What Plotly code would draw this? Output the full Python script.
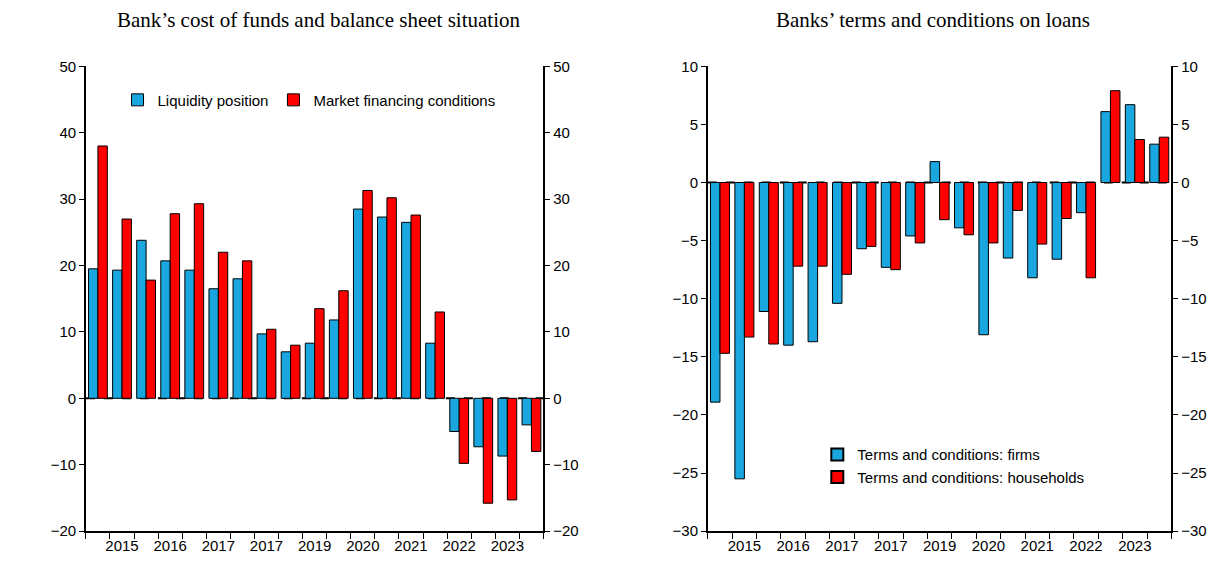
import plotly.graph_objects as go

labels = ["", "2015", "", "2016", "", "2017", "", "2017", "", "2019", "",
          "2020", "", "2021", "", "2022", "", "2023", ""]
liquidity = [19.5, 19.3, 23.8, 20.7, 19.3, 16.5, 18.0, 9.7, 7.0, 8.3, 11.8,
             28.5, 27.3, 26.5, 8.3, -5.0, -7.3, -8.7, -4.0]
market = [38.0, 27.0, 17.8, 27.8, 29.3, 22.0, 20.7, 10.4, 8.0, 13.5, 16.2,
          31.3, 30.2, 27.6, 13.0, -9.8, -15.8, -15.3, -8.0]
firms = [-18.9, -25.5, -11.1, -14.0, -13.7, -10.4, -5.7, -7.3, -4.6, 1.8, -3.9,
         -13.1, -6.5, -8.2, -6.6, -2.6, 6.1, 6.7, 3.3]
households = [-14.7, -13.3, -13.9, -7.2, -7.2, -7.9, -5.5, -7.5, -5.2, -3.2, -4.5,
              -5.2, -2.4, -5.3, -3.1, -8.2, 7.9, 3.7, 3.9]

x = list(range(1, len(labels) + 1))
tv = [i for i, l in zip(x, labels) if l]
tt = [l for l in labels if l]
blue, red = "#1aa7e0", "#ff0000"
font = "Liberation Sans Narrow, Arial Narrow, Arial"

fig = go.Figure()
bar_line = dict(color="black", width=1)
fig.add_bar(x=x, y=liquidity, name="Liquidity position", marker=dict(color=blue, line=bar_line),
            xaxis="x", yaxis="y", legend="legend")
fig.add_bar(x=x, y=market, name="Market financing conditions", marker=dict(color=red, line=bar_line),
            xaxis="x", yaxis="y", legend="legend")
fig.add_bar(x=x, y=firms, name="Terms and conditions: firms", marker=dict(color=blue, line=bar_line),
            xaxis="x2", yaxis="y2", legend="legend2")
fig.add_bar(x=x, y=households, name="Terms and conditions: households", marker=dict(color=red, line=bar_line),
            xaxis="x2", yaxis="y2", legend="legend2")

ydom = [0.072, 0.911]
ax = dict(showline=True, linecolor="black", linewidth=1.5, showgrid=False, zeroline=False,
          ticks="outside", ticklen=5, tickcolor="black", tickfont=dict(size=15, color="black", family=font))
xax = dict(ax, range=[0.5, 19.5], tickvals=tv, ticktext=tt, ticklen=0,
           minor=dict(ticks="outside", tick0=0.5, dtick=1, ticklen=6, tickcolor="black"))

fig.update_layout(
    width=1217, height=571, margin=dict(l=0, r=0, t=0, b=0),
    plot_bgcolor="white", paper_bgcolor="white",
    barmode="group", bargap=0.22, bargroupgap=0,
    xaxis=dict(xax, domain=[0.064, 0.440], anchor="y"),
    yaxis=dict(ax, domain=ydom, range=[-20, 50], dtick=10, anchor="x"),
    yaxis3=dict(ax, range=[-20, 50], dtick=10, overlaying="y", side="right", anchor="x"),
    xaxis2=dict(xax, domain=[0.575, 0.956], anchor="y2"),
    yaxis2=dict(ax, domain=ydom, range=[-30, 10], dtick=5, anchor="x2"),
    yaxis4=dict(ax, range=[-30, 10], dtick=5, overlaying="y2", side="right", anchor="x2"),
    legend=dict(orientation="h", x=0.09, y=0.85, xanchor="left", yanchor="middle",
                font=dict(size=15, family=font, color="black"), bgcolor="rgba(0,0,0,0)"),
    legend2=dict(x=0.665, y=0.19, xanchor="left", yanchor="middle", tracegroupgap=0,
                 font=dict(size=15, family=font, color="black"), bgcolor="rgba(0,0,0,0)",
                 itemsizing="constant"),
    showlegend=True,
    shapes=[
        dict(type="line", xref="x", yref="y", x0=0.5, x1=19.5, y0=0, y1=0,
             line=dict(color="black", width=2, dash="dash"), layer="below"),
        dict(type="line", xref="x2", yref="y2", x0=0.5, x1=19.5, y0=0, y1=0,
             line=dict(color="black", width=2, dash="dash"), layer="below"),
    ],
    annotations=[
        dict(text="Bank’s cost of funds and balance sheet situation", x=0.255, y=1.02,
             xref="paper", yref="paper", xanchor="center", yanchor="top", showarrow=False,
             font=dict(size=21, family="Liberation Serif, DejaVu Serif", color="black")),
        dict(text="Banks’ terms and conditions on loans", x=0.76, y=1.02,
             xref="paper", yref="paper", xanchor="center", yanchor="top", showarrow=False,
             font=dict(size=21, family="Liberation Serif, DejaVu Serif", color="black")),
    ],
)
# dummy traces so the right-hand axes render
fig.add_scatter(x=[None], y=[None], xaxis="x", yaxis="y3", showlegend=False)
fig.add_scatter(x=[None], y=[None], xaxis="x2", yaxis="y4", showlegend=False)

fig.write_html("out.html")
